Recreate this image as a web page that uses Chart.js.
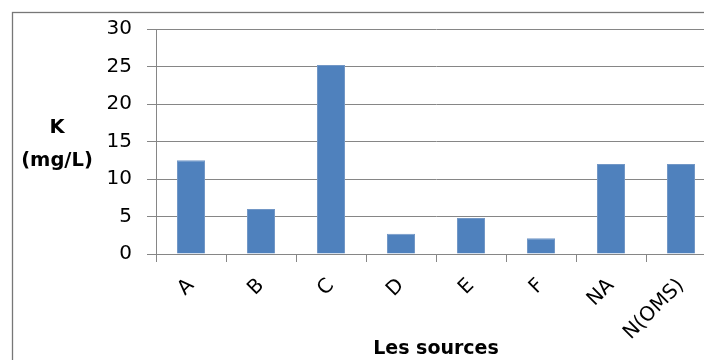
<!DOCTYPE html>
<html>
<head>
<meta charset="utf-8">
<script src="https://cdn.jsdelivr.net/npm/chart.js@4"></script>
<style>
  html, body { margin: 0; padding: 0; background: #fff; overflow: hidden; }
  #wrap { position: absolute; left: 0; top: 0; width: 740px; height: 380px; }
</style>
</head>
<body>
<div id="wrap"><canvas id="c"></canvas></div>
<script>
// Potassium concentration per water source
const sources = ['A', 'B', 'C', 'D', 'E', 'F', 'NA', 'N(OMS)'];
const potassium = [12.5, 6, 25.2, 2.7, 4.8, 2.1, 12, 12];
const yTicks = [0, 5, 10, 15, 20, 25, 30];
const yTitleLines = ['K', '(mg/L)'];
const xTitle = 'Les sources';

const FONT = "'DejaVu Sans', 'Open Sans', sans-serif";
const GRID = '#868686';

// Outer frame and the horizontal two-line y-axis title
const decorations = {
  id: 'decorations',
  beforeDraw(chart) {
    const ctx = chart.ctx;
    ctx.save();
    ctx.fillStyle = '#fff';
    ctx.fillRect(0, 0, chart.width, chart.height);
    ctx.strokeStyle = '#777';
    ctx.lineWidth = 1.3;
    ctx.strokeRect(12.5, 12.5, chart.width + 20, chart.height + 20);
    ctx.restore();
  },
  afterDraw(chart) {
    const ctx = chart.ctx;
    const area = chart.chartArea;
    const mid = (area.top + area.bottom) / 2;
    ctx.save();
    ctx.fillStyle = '#000';
    ctx.font = "bold 19.5px " + FONT;
    ctx.textAlign = 'center';
    ctx.textBaseline = 'middle';
    ctx.fillText(yTitleLines[0], 57, mid - 14);
    ctx.fillText(yTitleLines[1], 57, mid + 19);
    ctx.restore();
  }
};

new Chart(document.getElementById('c'), {
  type: 'bar',
  data: {
    labels: sources,
    datasets: [{
      data: potassium,
      backgroundColor: '#4F81BD',
      borderColor: '#7297C6',
      borderWidth: 1,
      borderSkipped: 'start',
      barPercentage: 0.4,
      categoryPercentage: 1.0
    }]
  },
  options: {
    responsive: true,
    maintainAspectRatio: false,
    animation: false,
    events: [],
    layout: { padding: { left: 0, right: 24, top: 29, bottom: 0 } },
    plugins: { legend: { display: false }, tooltip: { enabled: false } },
    scales: {
      x: {
        offset: true,
        afterFit(s) { s.height = 126; },
        grid: { display: true, drawOnChartArea: false, color: GRID, tickLength: 8, offset: true },
        border: { color: GRID, width: 1 },
        ticks: {
          color: '#000',
          font: { family: FONT, size: 20 },
          minRotation: 45,
          maxRotation: 45,
          padding: 12,
          autoSkip: false
        },
        title: {
          display: true,
          text: xTitle,
          color: '#000',
          font: { family: FONT, size: 19, weight: 'bold' },
          padding: { top: 0, bottom: 20 }
        }
      },
      y: {
        min: 0,
        max: 30,
        afterFit(s) { s.width = 156; },
        afterBuildTicks(s) { s.ticks = yTicks.map(v => ({ value: v })); },
        grid: { color: GRID, lineWidth: 1, tickLength: 9 },
        border: { color: GRID, width: 1 },
        ticks: {
          color: '#000',
          font: { family: FONT, size: 20 },
          padding: 15
        }
      }
    }
  },
  plugins: [decorations]
});
</script>
</body>
</html>
